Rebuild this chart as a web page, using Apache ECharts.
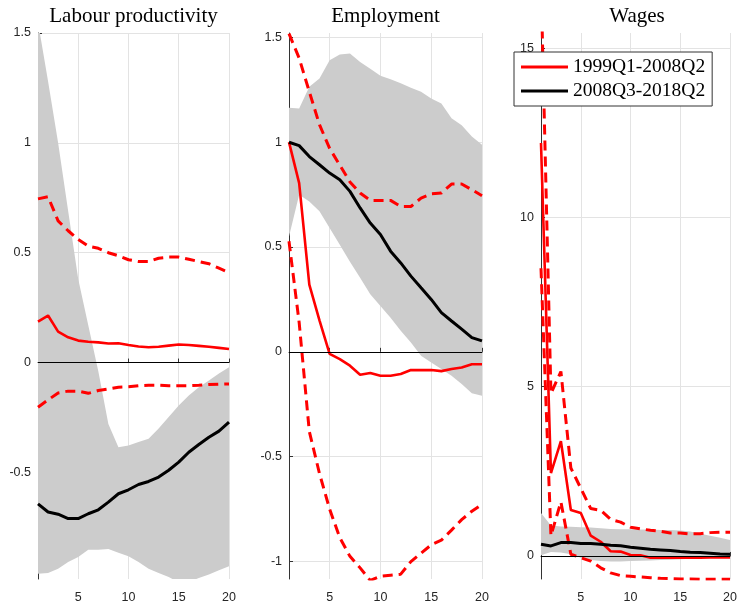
<!DOCTYPE html>
<html>
<head>
<meta charset="utf-8">
<script src="https://cdn.jsdelivr.net/npm/echarts@6/dist/echarts.min.js"></script>
<style>
html, body { margin: 0; padding: 0; background: #fff; }
#chart { width: 740px; height: 608px; }
</style>
</head>
<body>
<div id="chart"></div>
<script>
// quarters after the shock
let horizons = [1, 2, 3, 4, 5, 6, 7, 8, 9, 10, 11, 12, 13, 14, 15, 16, 17, 18, 19, 20];
let xTicks = [5, 10, 15, 20];
let titles = ['Labour productivity', 'Employment', 'Wages'];
let preName = '1999Q1-2008Q2';
let postName = '2008Q3-2018Q2';

// Labour productivity
let lpBandLow = [-0.961, -0.958, -0.938, -0.908, -0.885, -0.852, -0.852, -0.848, -0.866, -0.882, -0.908, -0.938, -0.958, -0.976, -1.0, -1.0, -0.98, -0.964, -0.945, -0.927];
let lpBandHigh = [1.55, 1.28, 1.0, 0.69, 0.38, 0.17, -0.04, -0.28, -0.385, -0.377, -0.362, -0.347, -0.30, -0.248, -0.195, -0.15, -0.112, -0.082, -0.05, -0.021];
let lpPre = [0.186, 0.214, 0.141, 0.115, 0.10, 0.095, 0.092, 0.087, 0.088, 0.08, 0.073, 0.07, 0.072, 0.077, 0.082, 0.08, 0.076, 0.072, 0.067, 0.062];
let lpPreHigh = [0.745, 0.755, 0.645, 0.6, 0.56, 0.53, 0.52, 0.50, 0.486, 0.468, 0.46, 0.46, 0.475, 0.48, 0.48, 0.47, 0.46, 0.45, 0.43, 0.41];
let lpPreLow = [-0.203, -0.17, -0.138, -0.13, -0.13, -0.14, -0.127, -0.12, -0.112, -0.11, -0.105, -0.103, -0.103, -0.105, -0.105, -0.105, -0.103, -0.1, -0.098, -0.097];
let lpPost = [-0.643, -0.68, -0.69, -0.71, -0.71, -0.688, -0.67, -0.635, -0.597, -0.579, -0.555, -0.541, -0.521, -0.49, -0.453, -0.408, -0.373, -0.34, -0.312, -0.271];
let lpTicks = [-0.5, 0, 0.5, 1, 1.5];

// Employment
let empBandLow = [0.55, 0.749, 0.717, 0.67, 0.59, 0.51, 0.43, 0.353, 0.274, 0.218, 0.163, 0.1, 0.044, -0.019, -0.051, -0.082, -0.114, -0.153, -0.198, -0.209];
let empBandHigh = [1.164, 1.16, 1.264, 1.303, 1.39, 1.417, 1.422, 1.382, 1.35, 1.316, 1.30, 1.28, 1.259, 1.24, 1.208, 1.184, 1.113, 1.08, 1.026, 0.987];
let empPre = [1.0, 0.804, 0.32, 0.15, -0.01, -0.035, -0.066, -0.109, -0.101, -0.114, -0.114, -0.106, -0.087, -0.087, -0.087, -0.092, -0.082, -0.075, -0.059, -0.059];
let empPreHigh = [1.517, 1.40, 1.24, 1.083, 0.97, 0.89, 0.81, 0.757, 0.722, 0.722, 0.722, 0.693, 0.693, 0.733, 0.754, 0.757, 0.80, 0.80, 0.773, 0.744];
let empPreLow = [0.527, 0.14, -0.38, -0.58, -0.75, -0.886, -0.975, -1.03, -1.09, -1.07, -1.065, -1.06, -1.0, -0.96, -0.92, -0.898, -0.85, -0.8, -0.76, -0.727];
let empPost = [0.999, 0.983, 0.931, 0.892, 0.852, 0.82, 0.765, 0.686, 0.614, 0.559, 0.48, 0.424, 0.361, 0.305, 0.25, 0.187, 0.147, 0.108, 0.068, 0.052];
let empTicks = [-1, -0.5, 0, 0.5, 1, 1.5];

// Wages
let wBandLow = [0.02, 0.12, 0.1, 0.05, -0.05, -0.12, -0.15, -0.16, -0.16, -0.15, -0.14, -0.13, -0.12, -0.11, -0.1, -0.08, -0.06, -0.05, -0.04, -0.03];
let wBandHigh = [1.27, 0.9, 0.87, 0.86, 0.85, 0.84, 0.82, 0.8, 0.79, 0.79, 0.78, 0.78, 0.77, 0.77, 0.75, 0.72, 0.66, 0.6, 0.54, 0.47];
let wPre = [12.2, 2.45, 3.39, 1.36, 1.27, 0.6, 0.42, 0.14, 0.13, 0.03, 0.02, -0.05, -0.05, -0.05, -0.05, -0.05, -0.05, -0.04, -0.04, -0.04];
let wPreHigh = [17, 4.8, 5.45, 2.6, 2.0, 1.4, 1.35, 1.08, 1.0, 0.85, 0.8, 0.76, 0.73, 0.68, 0.68, 0.65, 0.66, 0.69, 0.7, 0.7];
let wPreLow = [8.5, 0.6, 1.6, 0.05, -0.05, -0.15, -0.35, -0.5, -0.58, -0.6, -0.62, -0.64, -0.66, -0.67, -0.68, -0.68, -0.69, -0.69, -0.69, -0.69];
let wPost = [0.346, 0.297, 0.395, 0.395, 0.37, 0.37, 0.35, 0.32, 0.3, 0.26, 0.23, 0.2, 0.18, 0.16, 0.13, 0.11, 0.1, 0.08, 0.06, 0.05];
let wTicks = [0, 5, 10, 15];

let panels = [
    {low: lpBandLow, high: lpBandHigh, pre: lpPre, preHigh: lpPreHigh, preLow: lpPreLow, post: lpPost, ticks: lpTicks, min: -0.985, max: 1.5},
    {low: empBandLow, high: empBandHigh, pre: empPre, preHigh: empPreHigh, preLow: empPreLow, post: empPost, ticks: empTicks, min: -1.083, max: 1.52},
    {low: wBandLow, high: wBandHigh, pre: wPre, preHigh: wPreHigh, preLow: wPreLow, post: wPost, ticks: wTicks, min: -0.68, max: 15.45}
];

let grids = [
    {left: 38, top: 33, width: 191, height: 546},
    {left: 289, top: 33, width: 193, height: 546},
    {left: 541, top: 33, width: 192, height: 546}
];

let serif = 'Liberation Serif';
let labelStyle = {fontFamily: 'Liberation Sans', fontSize: 12.5, color: '#262626'};

function pairs(ys) {
    return horizons.map((h, i) => [h, ys[i]]);
}

// whole shaded band as one polygon, drawn once from the first item
function bandRenderer(low, high) {
    return function (params, api) {
        if (params.dataIndex !== 0) return null;
        let top = horizons.map((h, k) => api.coord([h, high[k]]));
        let bottom = horizons.map((h, k) => api.coord([h, low[k]])).reverse();
        return {
            type: 'polygon',
            shape: {points: top.concat(bottom)},
            style: {fill: '#cccccc', stroke: null}
        };
    };
}

let xAxes = [], yAxes = [], series = [], graphics = [];

panels.forEach((p, i) => {
    xAxes.push({
        type: 'value', gridIndex: i, min: 1, max: 20,
        axisLine: {lineStyle: {color: '#333', width: 1}},
        axisTick: {inside: true, length: 4, customValues: xTicks, lineStyle: {color: '#333'}},
        axisLabel: Object.assign({customValues: xTicks, margin: 12}, labelStyle),
        splitLine: {show: true, lineStyle: {color: '#e3e3e3', width: 1}}
    });
    yAxes.push({
        type: 'value', gridIndex: i, min: p.min, max: p.max,
        axisLine: {show: true, lineStyle: {color: '#333', width: 1}},
        axisTick: {show: true, inside: true, length: 4, customValues: p.ticks, lineStyle: {color: '#333'}},
        axisLabel: Object.assign({customValues: p.ticks, margin: 7}, labelStyle),
        splitLine: {show: true, lineStyle: {color: '#e3e3e3', width: 1}}
    });

    series.push({
        type: 'custom', xAxisIndex: i, yAxisIndex: i, clip: true, silent: true, z: 1,
        data: horizons.map((h, k) => [h, p.low[k], p.high[k]]),
        encode: {x: 0, y: [1, 2]},
        renderItem: bandRenderer(p.low, p.high),
        markLine: {
            silent: true, symbol: 'none', label: {show: false},
            lineStyle: {color: '#000', width: 1, type: 'solid'},
            data: [{yAxis: 0}]
        }
    });
    [p.preHigh, p.preLow].forEach(d => {
        series.push({
            type: 'line', xAxisIndex: i, yAxisIndex: i, data: pairs(d), symbol: 'none',
            lineStyle: {color: '#ff0000', width: 3, type: [10, 6]}, z: 3
        });
    });
    series.push({
        name: preName, type: 'line', xAxisIndex: i, yAxisIndex: i, data: pairs(p.pre), symbol: 'none',
        color: '#ff0000', lineStyle: {color: '#ff0000', width: 2.6}, z: 4
    });
    series.push({
        name: postName, type: 'line', xAxisIndex: i, yAxisIndex: i, data: pairs(p.post), symbol: 'none',
        color: '#000000', lineStyle: {color: '#000000', width: 3}, z: 5
    });

    graphics.push({
        type: 'text', x: grids[i].left + grids[i].width / 2, y: 16,
        style: {text: titles[i], font: '21px "' + serif + '"', fill: '#000', textAlign: 'center', textVerticalAlign: 'middle'}
    });
});

let chart = echarts.init(document.getElementById('chart'));
chart.setOption({
    animation: false,
    backgroundColor: '#fff',
    grid: grids,
    xAxis: xAxes,
    yAxis: yAxes,
    graphic: graphics,
    legend: {
        orient: 'vertical', left: 514, top: 52,
        backgroundColor: '#fff', borderColor: '#333', borderWidth: 1,
        padding: [5, 7, 5, 7], itemGap: 4, itemWidth: 47, itemHeight: 3,
        textStyle: {fontFamily: serif, fontSize: 19.5, color: '#000', lineHeight: 20},
        data: [{name: preName, icon: 'rect'}, {name: postName, icon: 'rect'}],
        z: 10
    },
    series: series
});
</script>
</body>
</html>
